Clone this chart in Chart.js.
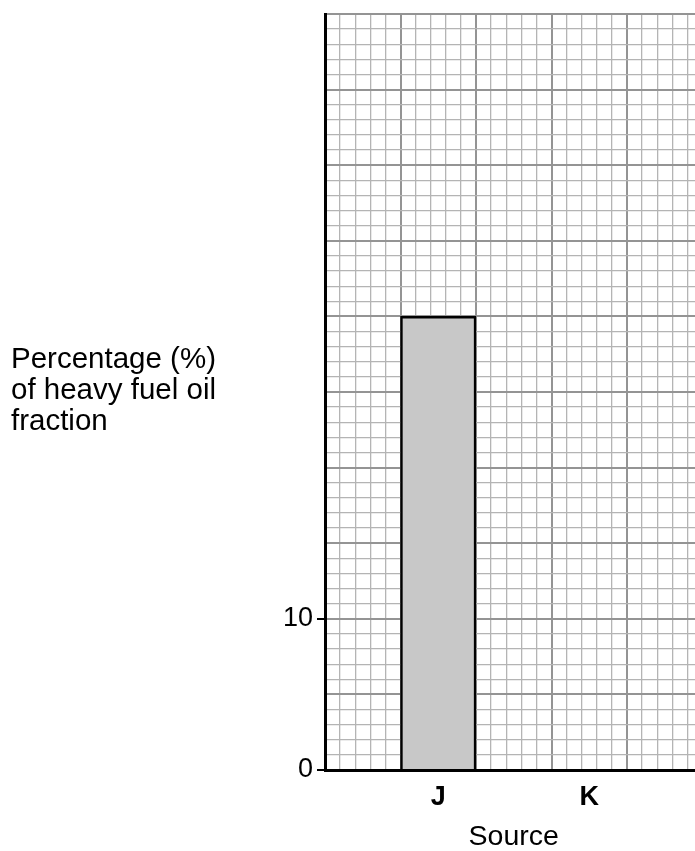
<!DOCTYPE html>
<html>
<head>
<meta charset="utf-8">
<script src="https://cdn.jsdelivr.net/npm/chart.js@4/dist/chart.umd.min.js"></script>
<style>
html, body { margin: 0; padding: 0; overflow: hidden; background: #fff; }
#wrap { position: relative; width: 705px; height: 851px; }
#ylab {
    position: absolute; left: 11px; top: 342px;
    font-family: 'Liberation Sans', Arial, sans-serif; font-size: 29.5px; line-height: 31px; color: #000;
}
</style>
</head>
<body>
<div id="wrap">
    <canvas id="grafico"></canvas>
    <div id="ylab">Percentage (%)<br>of heavy fuel oil<br>fraction</div>
</div>
<script>
// each source sits in the middle of two big squares, so the gaps are blank categories
const categorias = ['', 'J', '', 'K', '']
const percentagens = [null, 30, null, null, null]
const yTicksMostrados = [0, 10]
const yMax = 50
const xMinorMax = 25

const fonte = "'Liberation Sans', Arial, sans-serif"

function valorTick(ctx) {
    return ctx && ctx.tick ? ctx.tick.value : -1
}
function corGrade(ctx) {
    return valorTick(ctx) % 5 === 0 ? '#949494' : '#b4b4b4'
}
function larguraGrade(ctx) {
    return valorTick(ctx) % 5 === 0 ? 2 : 1.3
}

const config = {
    type: 'bar',
    data: {
        labels: categorias,
        datasets: [{
            data: percentagens,
            backgroundColor: '#c8c8c8',
            borderColor: '#000',
            borderWidth: 2.5,
            categoryPercentage: 1,
            barPercentage: 1,
            xAxisID: 'x',
            yAxisID: 'y'
        }]
    },
    options: {
        responsive: true,
        maintainAspectRatio: false,
        animation: false,
        layout: { padding: { top: 14, right: 2.5, left: 0, bottom: 0 } },
        plugins: {
            legend: { display: false },
            tooltip: { enabled: false }
        },
        scales: {
            x2: {
                type: 'linear',
                position: 'top',
                min: 0,
                max: xMinorMax,
                offset: false,
                ticks: { display: false, stepSize: 1 },
                grid: { offset: false, drawTicks: false, color: corGrade, lineWidth: larguraGrade },
                border: { display: false },
                afterFit: (s) => { s.height = 0; s.paddingLeft = 0; s.paddingRight = 0 }
            },
            x: {
                position: 'bottom',
                grid: { display: false },
                border: { display: true, color: '#000', width: 3 },
                ticks: {
                    color: '#000',
                    padding: 3,
                    font: { family: fonte, size: 27, weight: 'bold' }
                },
                title: {
                    display: true,
                    text: 'Source',
                    color: '#000',
                    padding: 0,
                    font: { family: fonte, size: 28.5, lineHeight: 1 }
                },
                afterFit: (s) => { s.height = 81 }
            },
            y: {
                min: 0,
                max: yMax,
                ticks: {
                    stepSize: 1,
                    autoSkip: false,
                    color: '#000',
                    padding: 4,
                    font: { family: fonte, size: 27 },
                    callback: (v) => yTicksMostrados.includes(v) ? String(v) : ''
                },
                grid: {
                    color: corGrade,
                    lineWidth: larguraGrade,
                    tickLength: 8,
                    tickColor: (ctx) => yTicksMostrados.includes(valorTick(ctx)) ? '#000' : 'rgba(0,0,0,0)',
                    tickWidth: 2
                },
                border: { display: true, color: '#000', width: 3 },
                afterFit: (s) => { s.width = 325; s.paddingTop = 0; s.paddingBottom = 0 }
            }
        }
    }
}

const myChart = new Chart(document.getElementById('grafico'), config)
</script>
</body>
</html>
